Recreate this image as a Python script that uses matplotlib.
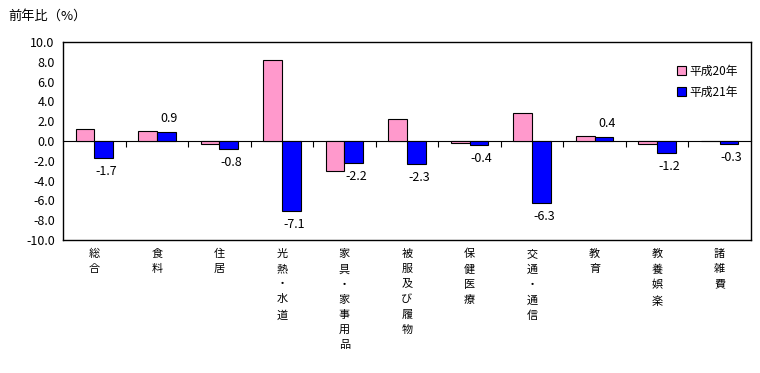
import numpy as np
import matplotlib
matplotlib.use('Agg')
import matplotlib.pyplot as plt

plt.rcParams['font.family'] = ['Noto Sans CJK JP', 'DejaVu Sans']

# Categories and year-on-year change (%)
categories = ['総合', '食料', '住居', '光熱・水道', '家具・家事用品', '被服及び履物',
              '保健医療', '交通・通信', '教育', '教養娯楽', '諸雑費']
h20 = [1.2, 1.0, -0.3, 8.2, -3.0, 2.2, -0.2, 2.8, 0.5, -0.3, 0.0]
h21 = [-1.7, 0.9, -0.8, -7.1, -2.2, -2.3, -0.4, -6.3, 0.4, -1.2, -0.3]
series_names = ['平成20年', '平成21年']

fig = plt.figure(figsize=(7.6, 3.73), dpi=100)
ax = fig.add_axes([0.083, 0.357, 0.905, 0.53])

x = np.arange(len(categories))
w = 0.3
ax.bar(x - w / 2, h20, w, color='#FF99CC', edgecolor='black', linewidth=0.8, label=series_names[0])
ax.bar(x + w / 2, h21, w, color='#0000FF', edgecolor='black', linewidth=0.8, label=series_names[1])

# Value labels for the latest year only
for xi, v in zip(x, h21):
    if v >= 0:
        ax.annotate(f'{v:.1f}', (xi + w / 2, v), xytext=(2, 5), textcoords='offset points',
                    ha='center', va='bottom', fontsize=9)
    else:
        ax.annotate(f'{v:.1f}', (xi + w / 2, v), xytext=(2, -5), textcoords='offset points',
                    ha='center', va='top', fontsize=9)

ax.set_xlim(-0.5, len(categories) - 0.5)
ax.set_ylim(-10, 10)
ax.set_yticks(np.arange(-10, 10.1, 2))
ax.set_yticklabels([f'{t:.1f}' for t in np.arange(-10, 10.1, 2)], fontsize=9)
ax.tick_params(axis='y', length=0, pad=6)
ax.set_xticks([])
for s in ax.spines.values():
    s.set_linewidth(1.0)

# zero line with category-boundary ticks
zero = ax.secondary_xaxis(0.5)
zero.set_xticks(np.arange(0.5, len(categories) - 0.5, 1))
zero.tick_params(direction='in', length=4, labelbottom=False, labeltop=False)
zero.spines['bottom'].set_linewidth(1.0)
zero.set_xticklabels([])

# vertical category labels below the axes
for xi, name in zip(x, categories):
    ax.text(xi, -10.9, '\n'.join(name), ha='center', va='top', fontsize=8,
            linespacing=1.65, transform=ax.transData)

ax.text(-0.08, 1.1, '前年比（%）', transform=ax.transAxes, fontsize=9.5, ha='left', va='bottom')

leg = ax.legend(loc='upper right', frameon=False, fontsize=8.5, handlelength=0.8,
                handleheight=0.8, handletextpad=0.3, labelspacing=0.7,
                bbox_to_anchor=(0.997, 0.94))

fig.savefig('out.png', dpi=100)
